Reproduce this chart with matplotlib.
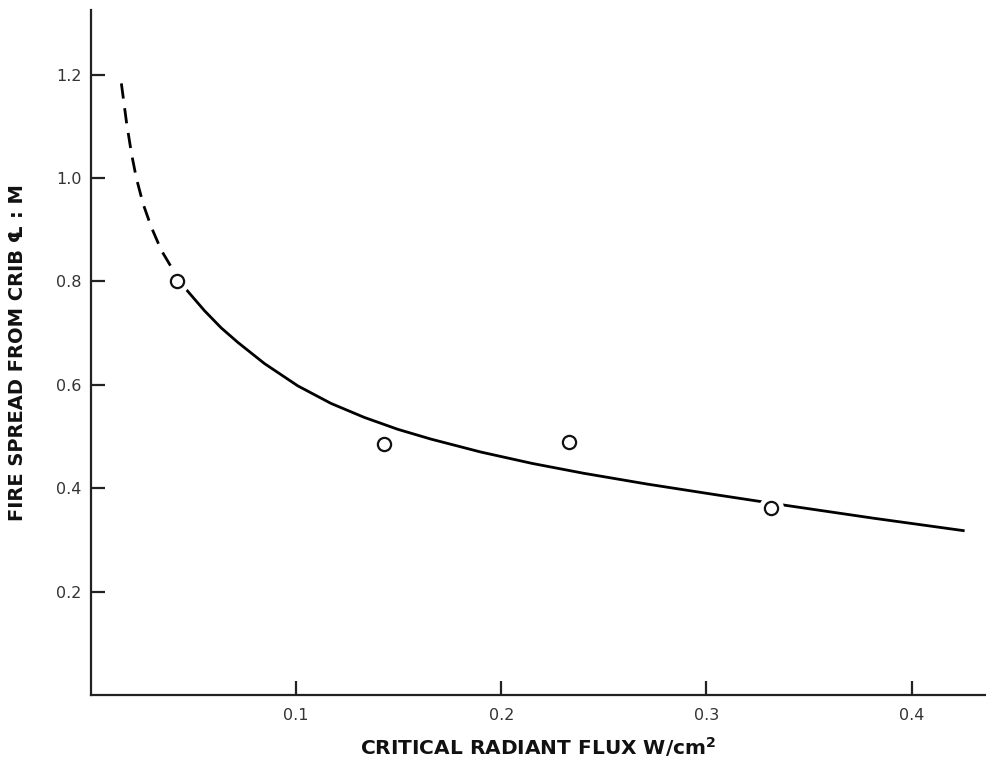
import matplotlib
matplotlib.use("Agg")
import matplotlib.pyplot as plt

plt.rcParams['mathtext.fontset'] = 'dejavusans'

# points measured from the chart
flux = [0.0421, 0.1427, 0.233, 0.3316]
spread = [0.80, 0.485, 0.489, 0.362]

# fitted curve (dashed extrapolation + solid part)
dash_x = [0.0148, 0.0173, 0.0197, 0.0221, 0.0254, 0.0294, 0.0343, 0.0400, 0.0421]
dash_y = [1.183, 1.108, 1.048, 1.000, 0.950, 0.905, 0.860, 0.822, 0.810]
solid_x = [0.0421, 0.0465, 0.0554, 0.0635, 0.0716, 0.0846, 0.1008, 0.1170, 0.1332,
           0.1495, 0.1657, 0.1900, 0.2150, 0.2400, 0.2711, 0.3052, 0.3384, 0.3814, 0.4252]
solid_y = [0.806, 0.784, 0.743, 0.710, 0.682, 0.641, 0.598, 0.564, 0.537,
           0.514, 0.495, 0.470, 0.448, 0.429, 0.408, 0.387, 0.367, 0.342, 0.318]

xticks = [0.1, 0.2, 0.3, 0.4]
yticks = [0.2, 0.4, 0.6, 0.8, 1.0, 1.2]

fig = plt.figure(figsize=(9.86, 7.6), dpi=100)
ax = fig.add_axes([91 / 986, 65 / 760, 895 / 986, 685 / 760])

ax.plot(dash_x, dash_y, color='black', lw=2.0, dashes=(5.5, 3.5), solid_capstyle='butt')
ax.plot(solid_x, solid_y, color='black', lw=2.0)
# white halo breaks the line around the markers
ax.plot(flux, spread, 'o', ms=17, color='white', zorder=3)
ax.plot(flux, spread, 'o', ms=9.5, mfc='white', mec='#111111', mew=1.6, zorder=4)

ax.set_xlim(0, 0.4363)
ax.set_ylim(0, 1.325)
ax.spines['top'].set_visible(False)
ax.spines['right'].set_visible(False)
for s in ['left', 'bottom']:
    ax.spines[s].set_linewidth(1.6)
    ax.spines[s].set_color('#222222')

ax.set_xticks(xticks)
ax.set_xticklabels([f"{v:.1f}" for v in xticks], family='DejaVu Sans', fontsize=11.5, color='#333333')
ax.set_yticks(yticks)
ax.set_yticklabels([f"{v:.1f}" for v in yticks], family='DejaVu Sans', fontsize=11.5, color='#333333')
ax.tick_params(direction='in', length=10, width=1.6, color='#222222')
ax.tick_params(axis='y', pad=7)
ax.tick_params(axis='x', pad=9)

ax.text(0.5, (695 - 755) / 685, r'CRITICAL RADIANT FLUX W/cm$^{\mathbf{2}}$', transform=ax.transAxes,
        ha='center', va='baseline', family='DejaVu Sans', fontsize=14.5, fontweight='bold',
        color='#111111')
ax.text(-0.082, 0.5, 'FIRE SPREAD FROM CRIB \u2104 : M', transform=ax.transAxes,
        ha='center', va='center', rotation=90, family='DejaVu Sans', fontsize=14,
        fontweight='bold', color='#111111')

fig.savefig('out.png', dpi=100)
